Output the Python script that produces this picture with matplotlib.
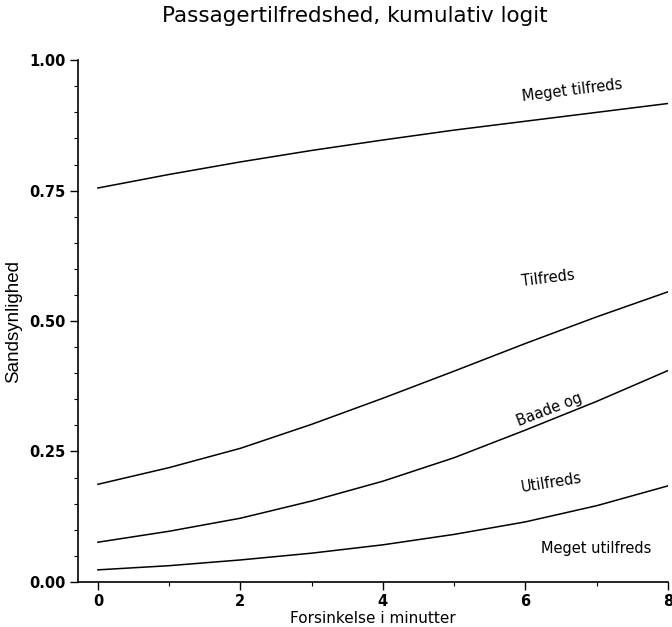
import matplotlib
matplotlib.use("Agg")
import matplotlib.pyplot as plt
from matplotlib.ticker import MultipleLocator, FormatStrFormatter

plt.rcParams['font.family'] = ['DejaVu Sans']

# Delay in minutes
delay = [0, 1, 2, 3, 4, 5, 6, 7, 8]

# Cumulative probabilities for each satisfaction boundary
p_meget_tilfreds = [0.755, 0.781, 0.805, 0.827, 0.847, 0.866, 0.883, 0.900, 0.917]
p_tilfreds = [0.187, 0.219, 0.256, 0.302, 0.352, 0.404, 0.457, 0.508, 0.556]
p_baade_og = [0.076, 0.097, 0.122, 0.155, 0.193, 0.238, 0.291, 0.346, 0.405]
p_utilfreds = [0.023, 0.031, 0.042, 0.055, 0.071, 0.091, 0.115, 0.146, 0.184]

curves = [p_meget_tilfreds, p_tilfreds, p_baade_og, p_utilfreds]

# Category labels: text, x, y, rotation
label_text = ["Meget tilfreds", "Tilfreds", "Baade og", "Utilfreds", "Meget utilfreds"]
label_x = [6.65, 6.32, 6.34, 6.36, 6.99]
label_y = [0.943, 0.582, 0.33, 0.19, 0.063]
label_rot = [7, 7, 21, 9, 0]

fig = plt.figure(figsize=(6.72, 6.27), dpi=100)
ax = fig.add_axes([0.116, 0.072, 0.878, 0.832])

for c in curves:
    ax.plot(delay, c, color='black', linewidth=1.1)

for t, x, y, r in zip(label_text, label_x, label_y, label_rot):
    ax.text(x, y, t, rotation=r, ha='center', va='center', fontsize=10.5,
            rotation_mode='anchor')

ax.set_xlim(-0.28, 8)
ax.set_ylim(0, 1)
ax.spines['top'].set_visible(False)
ax.spines['right'].set_visible(False)
for s in ('left', 'bottom'):
    ax.spines[s].set_linewidth(1.2)

ax.xaxis.set_major_locator(MultipleLocator(2))
ax.xaxis.set_minor_locator(MultipleLocator(1))
ax.yaxis.set_major_locator(MultipleLocator(0.25))
ax.yaxis.set_minor_locator(MultipleLocator(0.05))
ax.yaxis.set_major_formatter(FormatStrFormatter('%.2f'))
ax.tick_params(which='major', direction='out', length=6, width=1.0, labelsize=10.5)
ax.tick_params(axis='x', which='major', pad=3)
ax.tick_params(axis='y', which='major', pad=3)
ax.tick_params(which='minor', direction='out', length=3, width=0.8)
for lab in ax.get_xticklabels() + ax.get_yticklabels():
    lab.set_fontweight('bold')

ax.set_xlabel("Forsinkelse i minutter", fontsize=11, labelpad=1)
ax.set_ylabel("Sandsynlighed", fontsize=13.5, labelpad=5,
              family=['Liberation Sans Narrow', 'Liberation Sans', 'DejaVu Sans'])

fig.text(0.528, 0.975, "Passagertilfredshed, kumulativ logit", ha='center',
         va='center', fontsize=15.5)

fig.savefig("out.png", dpi=100)
